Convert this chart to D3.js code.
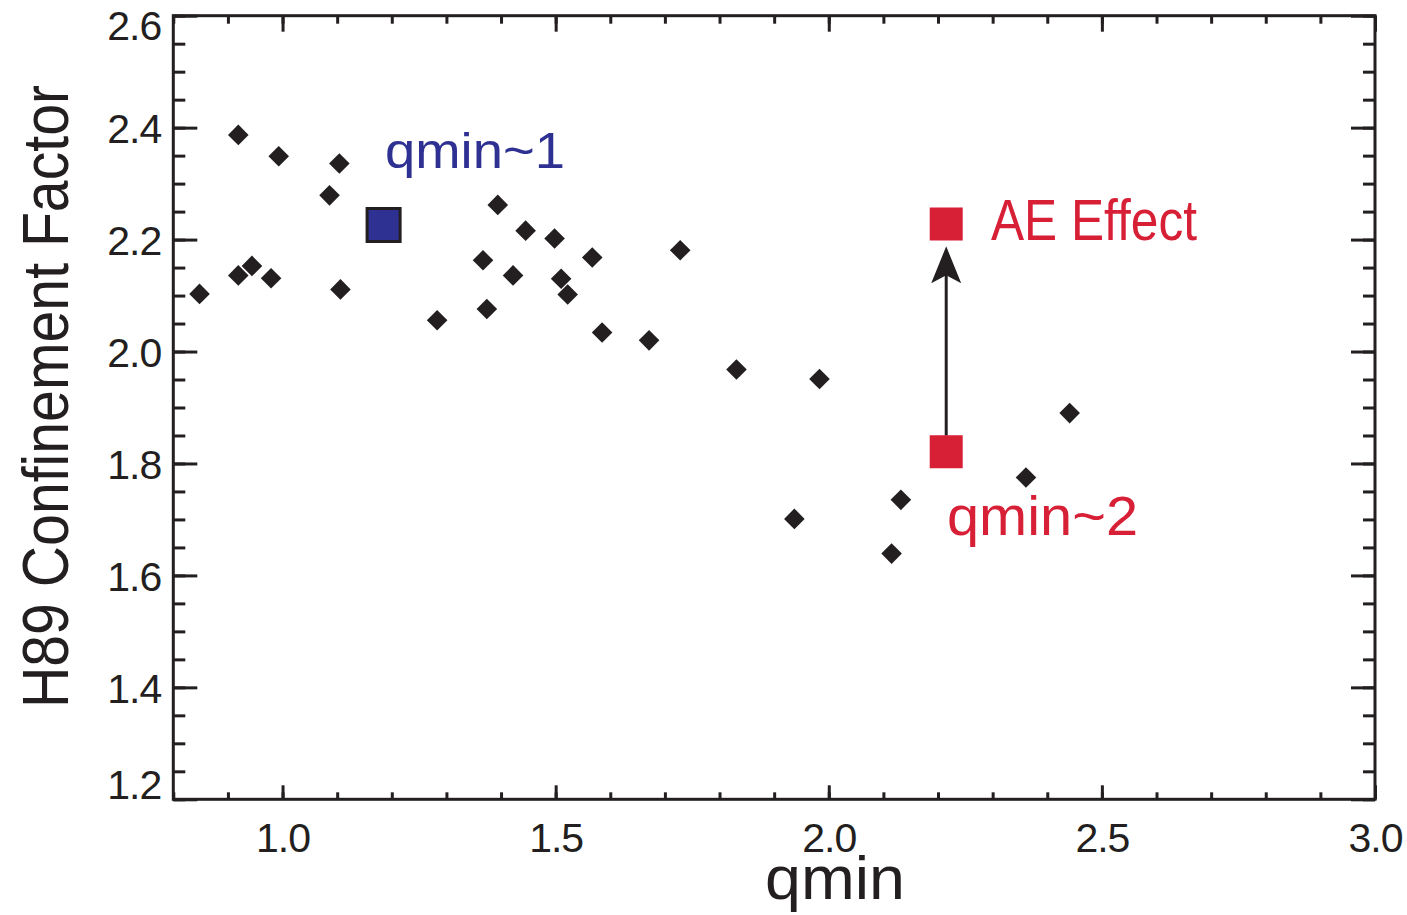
<!DOCTYPE html>
<html>
<head>
<meta charset="utf-8">
<script src="https://cdn.jsdelivr.net/npm/d3@7"></script>
<style>
  body { margin: 0; background: #fff; }
  text { font-family: "Liberation Sans", Arial, Helvetica, sans-serif; fill: #231f20; }
</style>
</head>
<body>
<script>
var width = 1407,
    height = 915;

// shots (qmin, H89)
var qmin = [0.848, 0.919, 0.919, 0.944, 0.979, 0.993, 1.086, 1.104, 1.106, 1.283,
            1.367, 1.374, 1.394, 1.422, 1.445, 1.498, 1.510, 1.522, 1.567, 1.585,
            1.671, 1.728, 1.831, 1.937, 1.983, 2.115, 2.132, 2.361, 2.441];
var h89  = [2.103, 2.387, 2.136, 2.153, 2.131, 2.349, 2.279, 2.336, 2.111, 2.056,
            2.163, 2.076, 2.262, 2.136, 2.216, 2.202, 2.130, 2.102, 2.168, 2.034,
            2.020, 2.181, 1.968, 1.701, 1.951, 1.639, 1.735, 1.775, 1.890];

// highlighted cases
var blueCase = {q: 1.185, h: 2.226};
var redCases = [{q: 2.215, h: 2.228}, {q: 2.215, h: 1.821}];
var arrowTip = 2.188;

var xMajor = [1.0, 1.5, 2.0, 2.5, 3.0];
var yMajor = [1.2, 1.4, 1.6, 1.8, 2.0, 2.2, 2.4, 2.6];

var blue = "#2e3192", red = "#d71f36", ink = "#231f20";

var pLeft = 173.3, pRight = 1375, pTop = 15.7, pBottom = 799.3;

var x = d3.scaleLinear().domain([0.8, 3.0]).range([pLeft, pRight]);
var y = d3.scaleLinear().domain([1.2, 2.6]).range([pBottom, pTop]);

var svg = d3.select("body").append("svg")
    .attr("width", width)
    .attr("height", height);

var xMinor = d3.range(8, 31).map(function(d){ return d / 10; });
var yMinor = d3.range(24, 53).map(function(d){ return d / 20; });

function styleAxis(g) {
  g.select(".domain").remove();
  g.selectAll(".tick line").attr("stroke", ink).attr("stroke-width", 3);
  g.selectAll("text")
    .style("font-size", "41px")
    .style("letter-spacing", "-1px")
    .attr("fill", ink);
}

// minor ticks
svg.append("g").attr("transform", "translate(0," + pBottom + ")")
  .call(d3.axisBottom(x).tickValues(xMinor).tickSize(-7).tickFormat(""))
  .call(styleAxis);
svg.append("g").attr("transform", "translate(0," + pTop + ")")
  .call(d3.axisTop(x).tickValues(xMinor).tickSize(-8).tickFormat(""))
  .call(styleAxis);
svg.append("g").attr("transform", "translate(" + pLeft + ",0)")
  .call(d3.axisLeft(y).tickValues(yMinor).tickSize(-12).tickFormat(""))
  .call(styleAxis);
svg.append("g").attr("transform", "translate(" + pRight + ",0)")
  .call(d3.axisRight(y).tickValues(yMinor).tickSize(-12).tickFormat(""))
  .call(styleAxis);

// major ticks + labels
svg.append("g").attr("transform", "translate(0," + pBottom + ")")
  .call(d3.axisBottom(x).tickValues(xMajor).tickSize(-14).tickPadding(24).tickFormat(d3.format(".1f")))
  .call(styleAxis);
svg.append("g").attr("transform", "translate(0," + pTop + ")")
  .call(d3.axisTop(x).tickValues(xMajor).tickSize(-16).tickFormat(""))
  .call(styleAxis);
var yAx = svg.append("g").attr("transform", "translate(" + pLeft + ",0)")
  .call(d3.axisLeft(y).tickValues(yMajor).tickSize(-24).tickPadding(12).tickFormat(d3.format(".1f")))
  .call(styleAxis);
yAx.selectAll("text").attr("dy", "0.36em")
  .attr("y", function(d){
    var py = y(d);
    if (py < 25) return 25 - py;
    if (py > 784) return 784 - py;
    return 0;
  });
svg.append("g").attr("transform", "translate(" + pRight + ",0)")
  .call(d3.axisRight(y).tickValues(yMajor).tickSize(-24).tickFormat(""))
  .call(styleAxis);

// frame
svg.append("rect")
  .attr("x", pLeft).attr("y", pTop)
  .attr("width", pRight - pLeft).attr("height", pBottom - pTop)
  .attr("fill", "none").attr("stroke", ink).attr("stroke-width", 3);

// axis titles
svg.append("text")
  .attr("x", 835).attr("y", 899)
  .attr("text-anchor", "middle")
  .attr("textLength", 140).attr("lengthAdjust", "spacingAndGlyphs")
  .style("font-size", "61px")
  .text("qmin");

svg.append("text")
  .attr("transform", "translate(68,396.5) rotate(-90)")
  .attr("text-anchor", "middle")
  .attr("textLength", 623).attr("lengthAdjust", "spacingAndGlyphs")
  .style("font-size", "64px")
  .text("H89 Confinement Factor");

// data diamonds
var shots = d3.zip(qmin, h89);
svg.append("g").selectAll("path")
  .data(shots)
  .enter().append("path")
    .attr("d", d3.symbol().type(d3.symbolSquare).size(212))
    .attr("transform", function(d){ return "translate(" + x(d[0]) + "," + y(d[1]) + ") rotate(45)"; })
    .attr("fill", ink);

// arrow between the two red cases
var ax = x(redCases[1].q),
    tipY = y(arrowTip),
    baseY = y(redCases[1].h) - 16;
svg.append("line")
  .attr("x1", ax).attr("x2", ax)
  .attr("y1", baseY).attr("y2", tipY + 20)
  .attr("stroke", ink).attr("stroke-width", 3);
svg.append("path")
  .attr("d", "M" + ax + "," + tipY +
             "L" + (ax + 15) + "," + (tipY + 37) +
             "L" + ax + "," + (tipY + 29) +
             "L" + (ax - 15) + "," + (tipY + 37) + "Z")
  .attr("fill", ink);

// highlighted squares
svg.append("path")
  .attr("d", d3.symbol().type(d3.symbolSquare).size(33 * 33))
  .attr("transform", "translate(" + x(blueCase.q) + "," + y(blueCase.h) + ")")
  .attr("fill", blue).attr("stroke", ink).attr("stroke-width", 3);

svg.append("g").selectAll("path")
  .data(redCases)
  .enter().append("path")
    .attr("d", d3.symbol().type(d3.symbolSquare).size(33 * 33))
    .attr("transform", function(d){ return "translate(" + x(d.q) + "," + y(d.h) + ")"; })
    .attr("fill", red);

// annotations
svg.append("text")
  .attr("x", 385).attr("y", 168)
  .attr("textLength", 180).attr("lengthAdjust", "spacingAndGlyphs")
  .style("font-size", "50px").style("fill", blue)
  .text("qmin~1");

svg.append("text")
  .attr("x", 947).attr("y", 535)
  .attr("textLength", 191).attr("lengthAdjust", "spacingAndGlyphs")
  .style("font-size", "56px").style("fill", red)
  .text("qmin~2");

svg.append("text")
  .attr("x", 991).attr("y", 240)
  .attr("textLength", 206).attr("lengthAdjust", "spacingAndGlyphs")
  .style("font-size", "58px").style("fill", red)
  .text("AE Effect");
</script>
</body>
</html>
